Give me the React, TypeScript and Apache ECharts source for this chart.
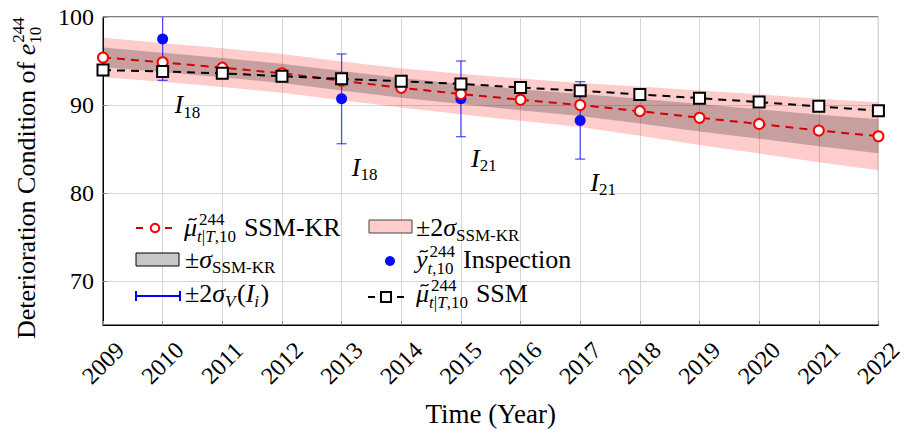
import React, { useEffect, useRef } from 'react';
import * as echarts from 'echarts';

const years = [2009, 2010, 2011, 2012, 2013, 2014, 2015, 2016, 2017, 2018, 2019, 2020, 2021, 2022];
const krMean = [95.4, 94.85, 94.25, 93.6, 92.75, 91.95, 91.25, 90.6, 90.0, 89.3, 88.55, 87.85, 87.1, 86.45];
const krSigma = [1.12, 1.1, 1.1, 1.1, 1.1, 1.12, 1.15, 1.2, 1.25, 1.4, 1.55, 1.68, 1.8, 1.93];
const ssmMean = [93.97, 93.8, 93.6, 93.27, 92.97, 92.7, 92.4, 91.98, 91.63, 91.2, 90.78, 90.33, 89.85, 89.35];
const inspYears = [2010, 2013, 2015, 2017];
const inspValues = [97.5, 90.7, 90.7, 88.25];
const inspErr = [4.7, 5.1, 4.3, 4.4];
const yTicks = [70, 80, 90, 100];
const annYears = [2010.2, 2013.17, 2015.17, 2017.17];
const annValues = [89.0, 81.85, 82.9, 80.15];
const annSubs = ['18', '18', '21', '21'];

const SERIF = "'Liberation Serif', 'Times New Roman', serif";
const MAIN = 26;
const SCRIPT = 17;
const SUP = 10.5;
const SUB = 6.5;

let measCtx: CanvasRenderingContext2D | null = null;
function fontStr(sz: number, it?: boolean) {
  return `${it ? 'italic ' : ''}${sz}px ${SERIF}`;
}
function measure(t: string, sz: number, it?: boolean) {
  if (!measCtx) measCtx = document.createElement('canvas').getContext('2d');
  measCtx!.font = fontStr(sz, it);
  return measCtx!.measureText(t).width;
}

type Run = { t: string; it?: boolean; sz?: number; tilde?: boolean };
type Stack = { sup?: Run[]; sub?: Run[]; subDy?: number; supDx?: number };
type Piece = Run | Stack;

function mathText(pieces: Piece[], x0: number, base: number, main = MAIN, fill = '#000'): any[] {
  const out: any[] = [];
  let x = x0;
  const place = (runs: Run[], sx: number, b: number, defSz: number) => {
    let xx = sx;
    for (const r of runs) {
      const sz = r.sz ?? defSz;
      const w = measure(r.t, sz, r.it);
      out.push({
        type: 'text',
        x: xx,
        y: b - 0.34 * sz,
        silent: true,
        style: { text: r.t, font: fontStr(sz, r.it), fill, align: 'left', verticalAlign: 'middle' },
      });
      if (r.tilde) {
        const cx = xx + w / 2 + 2;
        const ty = b - 0.47 * sz - 4.5;
        out.push({
          type: 'bezierCurve',
          silent: true,
          shape: { x1: cx - 4, y1: ty + 1.2, cpx1: cx - 1.8, cpy1: ty - 3, cpx2: cx + 1.8, cpy2: ty + 3, x2: cx + 4, y2: ty - 1.2 },
          style: { stroke: fill, lineWidth: 1.3, fill: 'none' },
        });
      }
      xx += w;
    }
    return xx - sx;
  };
  for (const p of pieces) {
    if ('t' in p) {
      x += place([p as Run], x, base, main);
    } else {
      const s = p as Stack;
      const dx = s.supDx ?? 0;
      const w1 = s.sup ? place(s.sup, x + dx, base - SUP, SCRIPT) + dx : 0;
      const w2 = s.sub ? place(s.sub, x, base + (s.subDy ?? (s.sup ? SUB : 4)), SCRIPT) : 0;
      x += Math.max(w1, w2) + 1.5;
    }
  }
  return out;
}

const muSub: Run[] = [{ t: 't', it: true }, { t: '|' }, { t: 'T', it: true }, { t: ',10' }];

function legendGraphics(): any[] {
  const g: any[] = [];
  const red = '#ff0000';
  const r1 = 236, r2 = 268, r3 = 302;
  // row 1 col 1: SSM-KR mean
  g.push({ type: 'line', shape: { x1: 136, y1: 228, x2: 143, y2: 228 }, style: { stroke: '#d40000', lineWidth: 2 } });
  g.push({ type: 'line', shape: { x1: 165, y1: 228, x2: 172, y2: 228 }, style: { stroke: '#d40000', lineWidth: 2 } });
  g.push({ type: 'circle', shape: { cx: 155, cy: 228, r: 4.3 }, style: { fill: '#fff', stroke: red, lineWidth: 2 } });
  g.push(...mathText([{ t: 'μ', it: true, tilde: true }, { sup: [{ t: '244' }], sub: muSub, supDx: 2 }, { t: ' SSM-KR' }], 184, r1));
  // row 1 col 2: ±2σ band
  g.push({ type: 'rect', shape: { x: 369, y: 220, width: 43, height: 13 }, style: { fill: '#ffcccc', stroke: '#444', lineWidth: 1 } });
  g.push(...mathText([{ t: '±2' }, { t: 'σ', it: true }, { sub: [{ t: 'SSM-KR' }], subDy: 5 }], 416, r1));
  // row 2 col 1: ±σ band
  g.push({ type: 'rect', shape: { x: 136, y: 253, width: 43, height: 13 }, style: { fill: '#c7c7c7', stroke: '#000', lineWidth: 1 } });
  g.push(...mathText([{ t: '±' }, { t: 'σ', it: true }, { sub: [{ t: 'SSM-KR' }], subDy: 5 }], 185, r2));
  // row 2 col 2: inspection
  g.push({ type: 'circle', shape: { cx: 390, cy: 261, r: 5 }, style: { fill: '#0a0aff' } });
  g.push(...mathText([{ t: 'y', it: true, tilde: true }, { sup: [{ t: '244' }], sub: [{ t: 't', it: true }, { t: ',10' }], supDx: 2 }, { t: ' Inspection' }], 416, r2));
  // row 3 col 1: error bar
  g.push({ type: 'line', shape: { x1: 136, y1: 296, x2: 180, y2: 296 }, style: { stroke: '#0000ff', lineWidth: 2 } });
  g.push({ type: 'line', shape: { x1: 136, y1: 291, x2: 136, y2: 301 }, style: { stroke: '#0000ff', lineWidth: 2 } });
  g.push({ type: 'line', shape: { x1: 180, y1: 291, x2: 180, y2: 301 }, style: { stroke: '#0000ff', lineWidth: 2 } });
  g.push(...mathText([{ t: '±2' }, { t: 'σ', it: true }, { sub: [{ t: 'V', it: true }], subDy: 5 }, { t: '(' }, { t: 'I', it: true }, { sub: [{ t: 'i', it: true }], subDy: 5 }, { t: ')' }], 185, r3));
  // row 3 col 2: SSM mean
  g.push({ type: 'line', shape: { x1: 368, y1: 297, x2: 375, y2: 297 }, style: { stroke: '#000', lineWidth: 2 } });
  g.push({ type: 'line', shape: { x1: 397, y1: 297, x2: 404, y2: 297 }, style: { stroke: '#000', lineWidth: 2 } });
  g.push({ type: 'rect', shape: { x: 381, y: 292, width: 10, height: 10 }, style: { fill: '#fff', stroke: '#000', lineWidth: 2 } });
  g.push(...mathText([{ t: 'μ', it: true, tilde: true }, { sup: [{ t: '244' }], sub: muSub, supDx: 2 }, { t: ' SSM' }], 416, r3));
  return g;
}

function yTitleGraphic(): any {
  return {
    type: 'group',
    x: 35,
    y: 339,
    rotation: Math.PI / 2,
    children: mathText(
      [{ t: 'Deterioration Condition of ' }, { t: 'e', it: true }, { sup: [{ t: '244' }], sub: [{ t: '10' }], supDx: 1 }],
      0,
      0,
      26
    ),
  };
}

function bandSeries(k: number, fill: string): any {
  return {
    type: 'custom',
    clip: true,
    silent: true,
    data: years.map((y, i) => [y, krMean[i] - k * krSigma[i], krMean[i] + k * krSigma[i]]),
    renderItem: (params: any, api: any) => {
      if (params.dataIndex !== 0) return null;
      const up = years.map((y, i) => api.coord([y, krMean[i] + k * krSigma[i]]));
      const dn = years.map((y, i) => api.coord([y, krMean[i] - k * krSigma[i]])).reverse();
      return { type: 'polygon', shape: { points: [...up, ...dn] }, style: { fill } };
    },
  };
}

export default function App() {
  const ref = useRef<HTMLDivElement>(null);
  useEffect(() => {
    if (!ref.current) return;
    const chart = echarts.init(ref.current, undefined, { renderer: 'svg' });
    const pairs = (vals: number[]) => years.map((y, i) => [y, vals[i]]);
    const option: any = {
      animation: false,
      backgroundColor: '#fff',
      grid: { left: 103, right: 23, top: 17, bottom: 113, show: true, borderColor: '#000', borderWidth: 1, backgroundColor: 'transparent' },
      xAxis: {
        type: 'value',
        min: 2009,
        max: 2022,
        interval: 1,
        axisLine: { lineStyle: { color: '#000', width: 1 } },
        axisTick: { inside: true, length: 4, lineStyle: { color: '#888' } },
        splitLine: { show: true, lineStyle: { color: '#d6d6d6', width: 1 } },
        axisLabel: {
          rotate: 45,
          align: 'center',
          verticalAlign: 'middle',
          margin: 38,
          fontFamily: SERIF,
          fontSize: 24,
          color: '#000',
          formatter: (v: number) => String(v),
        },
        name: 'Time (Year)',
        nameLocation: 'middle',
        nameGap: 75,
        nameTextStyle: { fontFamily: SERIF, fontSize: 27, color: '#000' },
      },
      yAxis: {
        type: 'value',
        min: 65,
        max: 100,
        axisLine: { show: true, lineStyle: { color: '#000', width: 1 } },
        axisTick: { show: true, inside: true, length: 4, lineStyle: { color: '#888' }, customValues: yTicks },
        axisLabel: { customValues: yTicks, fontFamily: SERIF, fontSize: 24, color: '#000', margin: 9 },
        splitLine: { show: true, lineStyle: { color: '#d6d6d6', width: 1 } },
      },
      series: [
        bandSeries(2, 'rgba(255,0,0,0.2)'),
        bandSeries(1, 'rgba(0,0,0,0.22)'),
        {
          type: 'custom',
          clip: true,
          data: inspYears.map((y, i) => [y, inspValues[i] - inspErr[i], inspValues[i] + inspErr[i]]),
          renderItem: (params: any, api: any) => {
            const x = api.value(0);
            const p1 = api.coord([x, api.value(1)]);
            const p2 = api.coord([x, api.value(2)]);
            const st = { stroke: 'rgba(0,0,255,0.65)', lineWidth: 1.3 };
            return {
              type: 'group',
              children: [
                { type: 'line', shape: { x1: p1[0], y1: p1[1], x2: p2[0], y2: p2[1] }, style: st },
                { type: 'line', shape: { x1: p1[0] - 5, y1: p1[1], x2: p1[0] + 5, y2: p1[1] }, style: st },
                { type: 'line', shape: { x1: p2[0] - 5, y1: p2[1], x2: p2[0] + 5, y2: p2[1] }, style: st },
              ],
            };
          },
        },
        {
          type: 'line',
          data: pairs(krMean),
          symbol: 'circle',
          symbolSize: 10,
          showAllSymbol: true,
          lineStyle: { color: '#d40000', width: 2, type: [8, 6] },
          itemStyle: { color: '#fff', borderColor: '#ff0000', borderWidth: 2 },
        },
        {
          type: 'line',
          data: pairs(ssmMean),
          symbol: 'rect',
          symbolSize: 11,
          showAllSymbol: true,
          lineStyle: { color: '#000', width: 2, type: [8, 6] },
          itemStyle: { color: '#fff', borderColor: '#000', borderWidth: 2 },
        },
        {
          type: 'scatter',
          data: inspYears.map((y, i) => [y, inspValues[i]]),
          symbol: 'circle',
          symbolSize: 11,
          itemStyle: { color: '#0a0aff', opacity: 1 },
        },
      ],
    };
    chart.setOption(option);
    const annG: any[] = [];
    annYears.forEach((y, i) => {
      const p = chart.convertToPixel({ gridIndex: 0 }, [y, annValues[i]]) as number[];
      annG.push(...mathText([{ t: 'I', it: true }, { sub: [{ t: annSubs[i] }], subDy: 4 }], p[0], p[1]));
    });
    chart.setOption({ graphic: [...legendGraphics(), yTitleGraphic(), ...annG] });
    return () => chart.dispose();
  }, []);
  return <div ref={ref} style={{ position: 'fixed', left: 0, top: 0, width: 906, height: 438 }} />;
}
